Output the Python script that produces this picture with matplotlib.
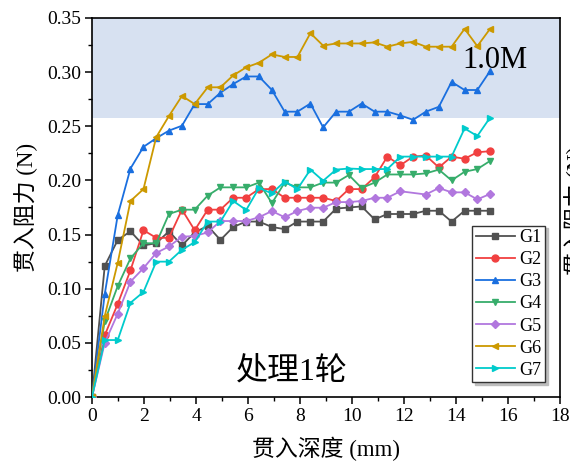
import matplotlib
matplotlib.use("Agg")
import matplotlib.pyplot as plt
from matplotlib.ticker import MultipleLocator

# ---- data ----
depth = [0.00, 0.49, 0.99, 1.48, 1.98, 2.47, 2.96, 3.46, 3.95, 4.45, 4.94, 5.43,
         5.93, 6.42, 6.92, 7.41, 7.90, 8.40, 8.89, 9.39, 9.88, 10.37, 10.87, 11.36,
         11.86, 12.35, 12.84, 13.34, 13.83, 14.33, 14.82, 15.31]
depth_g5 = [0.00, 0.49, 0.99, 1.48, 1.98, 2.47, 2.96, 3.46, 3.95, 4.45, 4.94, 5.43,
            5.93, 6.42, 6.92, 7.41, 7.90, 8.40, 8.89, 9.39, 9.88, 10.37, 10.87, 11.36,
            11.86, 12.84, 13.34, 13.83, 14.33, 14.82, 15.31]

g1 = [0, 0.121, 0.145, 0.153, 0.140, 0.142, 0.153, 0.140, 0.152, 0.158, 0.145, 0.157,
      0.162, 0.162, 0.157, 0.155, 0.162, 0.162, 0.162, 0.174, 0.175, 0.176, 0.164, 0.169,
      0.169, 0.169, 0.172, 0.172, 0.162, 0.172, 0.172, 0.172]
g2 = [0, 0.057, 0.086, 0.117, 0.154, 0.147, 0.147, 0.173, 0.154, 0.173, 0.173, 0.184,
      0.184, 0.192, 0.192, 0.184, 0.184, 0.184, 0.184, 0.181, 0.192, 0.192, 0.203, 0.222,
      0.214, 0.222, 0.223, 0.212, 0.222, 0.220, 0.226, 0.227]
g3 = [0, 0.095, 0.168, 0.211, 0.231, 0.239, 0.246, 0.2505, 0.2705, 0.2705, 0.281, 0.289,
      0.296, 0.296, 0.2835, 0.2635, 0.2635, 0.271, 0.249, 0.2635, 0.2635, 0.271, 0.2635,
      0.2635, 0.260, 0.256, 0.2635, 0.268, 0.291, 0.2835, 0.2835, 0.301]
g4 = [0, 0.070, 0.1025, 0.128, 0.142, 0.142, 0.169, 0.173, 0.173, 0.186, 0.1936, 0.1936,
      0.1936, 0.198, 0.179, 0.198, 0.1936, 0.1936, 0.198, 0.198, 0.205, 0.193, 0.198,
      0.2055, 0.2055, 0.2055, 0.2065, 0.210, 0.200, 0.208, 0.2105, 0.218]
g5 = [0, 0.050, 0.077, 0.1065, 0.119, 0.133, 0.139, 0.148, 0.1487, 0.152, 0.1625, 0.1625,
      0.1625, 0.166, 0.1717, 0.166, 0.1717, 0.1748, 0.1748, 0.180, 0.180, 0.181, 0.184,
      0.184, 0.190, 0.187, 0.193, 0.189, 0.189, 0.1825, 0.1875]
g6 = [0, 0.0748, 0.124, 0.181, 0.192, 0.240, 0.2595, 0.278, 0.2705, 0.286, 0.286, 0.297,
      0.3044, 0.3087, 0.3164, 0.314, 0.314, 0.336, 0.3245, 0.3265, 0.3265, 0.3265, 0.3275,
      0.3235, 0.3265, 0.328, 0.3235, 0.3235, 0.3235, 0.340, 0.324, 0.340]
g7 = [0, 0.0526, 0.0526, 0.087, 0.097, 0.125, 0.125, 0.136, 0.143, 0.162, 0.162, 0.181,
      0.1727, 0.193, 0.188, 0.199, 0.192, 0.210, 0.1997, 0.210, 0.211, 0.2105, 0.2105,
      0.2105, 0.222, 0.222, 0.222, 0.222, 0.222, 0.248, 0.241, 0.258]

labels = ["G1", "G2", "G3", "G4", "G5", "G6", "G7"]
xs = [depth, depth, depth, depth, depth_g5, depth, depth]
ys = [g1, g2, g3, g4, g5, g6, g7]
colors = ["#515151", "#F14040", "#1A6FDF", "#37AD6B", "#B177DE", "#CC9900", "#00CBCC"]
markers = ["s", "o", "^", "v", "D", "<", ">"]

shade_low, shade_high = 0.258, 0.35

SERIF = ["Liberation Serif", "Noto Sans CJK SC"]
plt.rcParams["font.family"] = SERIF
plt.rcParams["axes.unicode_minus"] = False

fig = plt.figure(figsize=(5.70, 4.65), dpi=100)
ax = fig.add_axes([92/570, 1-397/465, (560-92)/570, (397-18)/465])

ax.axhspan(shade_low, shade_high, color="#d7e1f1", zorder=0, lw=0)

for x, y, c, m, lab in zip(xs, ys, colors, markers, labels):
    ms = 4.2 if m == "D" else 5
    ax.plot(x, y, color=c, marker=m, markersize=ms, lw=1.3, label=lab,
            markeredgecolor=c, markerfacecolor=c, zorder=3)

ax.set_xlim(0, 18)
ax.set_ylim(0, 0.35)
ax.xaxis.set_major_locator(MultipleLocator(2))
ax.xaxis.set_minor_locator(MultipleLocator(1))
ax.yaxis.set_major_locator(MultipleLocator(0.05))
ax.yaxis.set_minor_locator(MultipleLocator(0.025))
ax.yaxis.set_major_formatter(plt.FuncFormatter(lambda v, p: f"{v:.2f}"))

ax.tick_params(which="major", direction="out", length=5, width=1.1, labelsize=14,
               top=False, right=False, pad=3)
ax.tick_params(which="minor", direction="out", length=3, width=1.0,
               top=False, right=False)
for s in ax.spines.values():
    s.set_linewidth(1.2)

ax.set_xlabel("贯入深度 (mm)", fontsize=16.5, family=SERIF, labelpad=8)
ax.set_ylabel("贯入阻力 (N)", fontsize=16.5, family=SERIF, labelpad=6)

ax.text(15.5, 0.311, "1.0M", fontsize=22, family=SERIF, ha="center", va="center")
ax.text(7.7, 0.0235, "处理1轮", fontsize=23, family=SERIF, ha="center", va="center")

leg = ax.legend(loc="upper left", bbox_to_anchor=(0.812, 0.452), fontsize=13,
                frameon=True, fancybox=False, edgecolor="#333333",
                shadow={"color": "#bdbdbd", "alpha": 1.0},
                handlelength=2.2, handletextpad=0.2, labelspacing=0.28,
                borderpad=0.2, borderaxespad=0)
leg.get_frame().set_linewidth(1.0)
leg.get_frame().set_alpha(1.0)

# partially visible label of the neighbouring panel at the right edge
fig.text(576/570, 1-210/465, "贯入阻力 (N)", rotation=90, fontsize=16.5,
         family=SERIF, ha="center", va="center")

fig.savefig("out.png", dpi=100)
